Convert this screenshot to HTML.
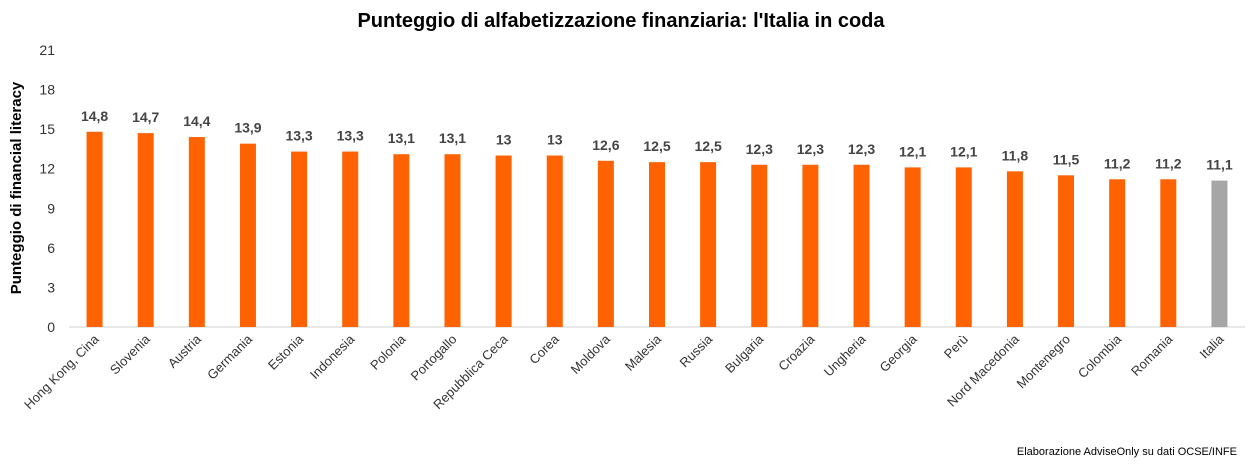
<!DOCTYPE html>
<html><head><meta charset="utf-8"><style>
body{margin:0;background:#fff;width:1255px;height:464px;overflow:hidden;font-family:"Liberation Sans",sans-serif}
</style></head><body>
<svg id="chart" width="1255" height="464" xmlns="http://www.w3.org/2000/svg" font-family="Liberation Sans, sans-serif">
<text x="621" y="27" text-anchor="middle" font-size="20" font-weight="bold" fill="#000">Punteggio di alfabetizzazione finanziaria: l'Italia in coda</text>
<text transform="translate(21,188) rotate(-90)" text-anchor="middle" font-size="15" font-weight="bold" fill="#000">Punteggio di financial literacy</text>
<text x="1237" y="455" text-anchor="end" font-size="11" fill="#000">Elaborazione AdviseOnly su dati OCSE/INFE</text>
<g id="plot"></g>
</svg>
<script>
const categories=["Hong Kong, Cina","Slovenia","Austria","Germania","Estonia","Indonesia","Polonia","Portogallo","Repubblica Ceca","Corea","Moldova","Malesia","Russia","Bulgaria","Croazia","Ungheria","Georgia","Perù","Nord Macedonia","Montenegro","Colombia","Romania","Italia"];
const values=[14.8,14.7,14.4,13.9,13.3,13.3,13.1,13.1,13,13,12.6,12.5,12.5,12.3,12.3,12.3,12.1,12.1,11.8,11.5,11.2,11.2,11.1];
const valueLabels=["14,8","14,7","14,4","13,9","13,3","13,3","13,1","13,1","13","13","12,6","12,5","12,5","12,3","12,3","12,3","12,1","12,1","11,8","11,5","11,2","11,2","11,1"];
const yTicks=[0,3,6,9,12,15,18,21];
const NS="http://www.w3.org/2000/svg";
const g=document.getElementById('plot');
const x0=69,x1=1245,y0=327,yTop=50,yMax=21;
const bw=(x1-x0)/categories.length;
const y=v=>y0-(v/yMax)*(y0-yTop);
const xc=i=>x0+bw*(i+0.5);
function mk(tag,attrs,txt){const e=document.createElementNS(NS,tag);for(const k in attrs)e.setAttribute(k,attrs[k]);if(txt!=null)e.textContent=txt;g.appendChild(e);return e;}
yTicks.forEach(t=>{const e=mk('text',{x:55,y:y(t)+5,'text-anchor':'end','font-size':14,fill:'#333'},String(t));

});
const ax=mk('line',{x1:x0,x2:x1,y1:y0,y2:y0,stroke:'#d0d0d0','stroke-width':1});


categories.forEach((c,i)=>{
const cx=xc(i),top=y(values[i]);
const r=mk('rect',{x:cx-8,y:top,width:16,height:y0-top,fill:c==='Italia'?'#a6a6a6':'#ff6200'});


const l=mk('text',{x:cx,y:top-11,'text-anchor':'middle','font-size':14,'font-weight':'bold',fill:'#444'},valueLabels[i]);


const t=mk('text',{transform:`translate(${cx+5},${y0+13}) rotate(-45)`,'text-anchor':'end','font-size':13,fill:'#333'},c);


});
</script>
</body></html>
